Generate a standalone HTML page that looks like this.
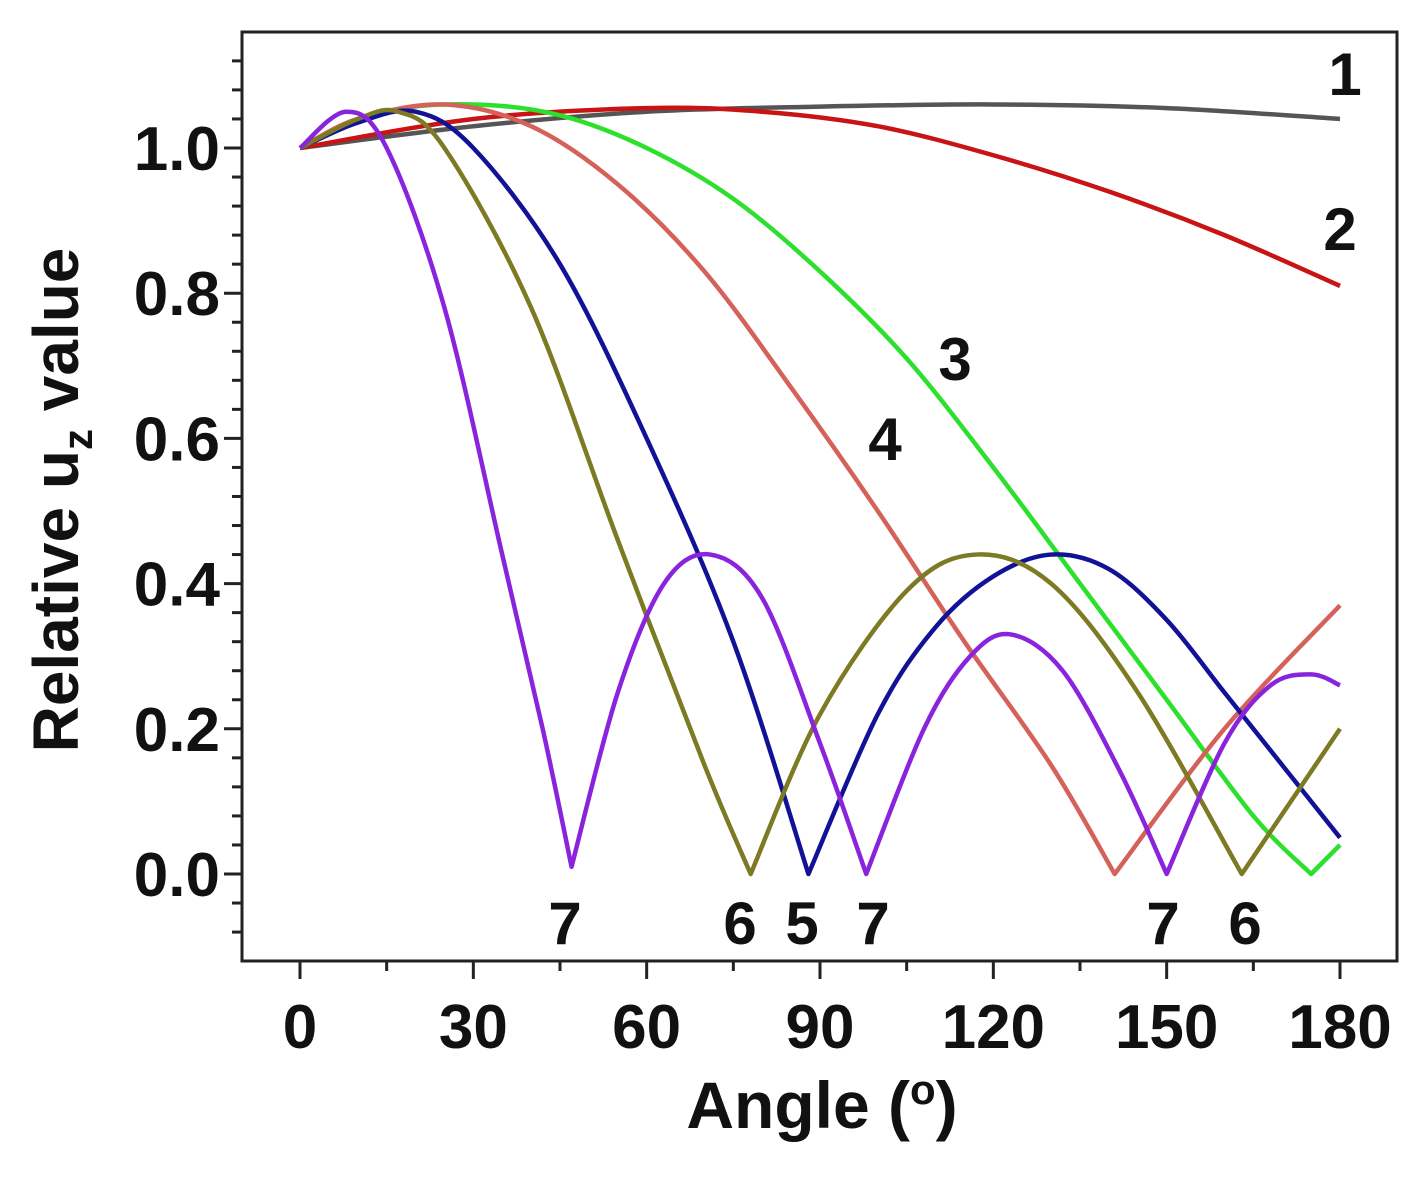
<!DOCTYPE html>
<html><head><meta charset="utf-8"><style>
html,body{margin:0;padding:0;background:#fff;}
svg text{font-family:"Liberation Sans",sans-serif;font-weight:bold;fill:#111;}
</style></head><body>
<svg id="chart" width="1427" height="1181" viewBox="0 0 1427 1181" xmlns="http://www.w3.org/2000/svg">
<g id="axes"></g>
<g id="series"></g>
<g id="labels"></g>
<text x="0" y="0" font-size="64" text-anchor="middle" transform="translate(78,500) rotate(-90)">Relative u<tspan font-size="42" dy="14">z</tspan><tspan dy="-14"> value</tspan></text>
<text x="822" y="1128" font-size="66" text-anchor="middle">Angle (<tspan font-size="42" dy="-24">o</tspan><tspan dy="24">)</tspan></text>
</svg>
<script>
const xTicks=[0,30,60,90,120,150,180];
const yTicks=[0.0,0.2,0.4,0.6,0.8,1.0];
const s1x=[0,30,60,90,120,150,180];
const s1y=[1.0,1.03,1.05,1.057,1.06,1.055,1.04];
const s2x=[0,30,60,80,100,120,140,160,180];
const s2y=[1.0,1.04,1.055,1.05,1.03,0.99,0.94,0.88,0.81];
const s3x=[0,15,30,45,60,75,90,105,120,135,150,165,175,180];
const s3y=[1.0,1.05,1.06,1.045,1.0,0.93,0.83,0.71,0.56,0.40,0.24,0.08,0.0,0.04];
const s4x=[0,10,25,40,55,70,85,100,115,130,141,160,180];
const s4y=[1.0,1.04,1.06,1.03,0.95,0.83,0.67,0.50,0.32,0.15,0.0,0.2,0.37];
const s5x=[0,10,20,30,45,60,75,88,100,110,120,130,140,150,160,170,180];
const s5y=[1.0,1.035,1.05,1.0,0.84,0.60,0.32,0.0,0.22,0.34,0.41,0.44,0.42,0.35,0.25,0.15,0.05];
const s6x=[0,10,17,25,40,55,70,78,90,105,117,130,145,163,180];
const s6y=[1.0,1.04,1.05,1.0,0.78,0.46,0.15,0.0,0.22,0.39,0.44,0.40,0.25,0.0,0.2];
const s7x=[0,8,15,25,35,42,47,55,63,71,80,90,98,108,116,123,132,142,150,160,168,175,180];
const s7y=[1.0,1.05,1.0,0.78,0.44,0.2,0.01,0.25,0.40,0.44,0.38,0.18,0.0,0.2,0.3,0.33,0.28,0.14,0.0,0.18,0.26,0.275,0.26];
const colors=["#555555","#c81414","#2de02d","#d4625a","#121296","#7d7a24","#8a24dc"];
const seriesX=[s1x,s2x,s3x,s4x,s5x,s6x,s7x];
const seriesY=[s1y,s2y,s3y,s4y,s5y,s6y,s7y];
const NS="http://www.w3.org/2000/svg";
const X=v=>300+v*(1040/180);
const Y=v=>874-v*726;
function mk(tag,attrs,parent){const e=document.createElementNS(NS,tag);for(const k in attrs)e.setAttribute(k,attrs[k]);parent.appendChild(e);return e;}
const axes=document.getElementById('axes');
let fr=mk('rect',{x:242,y:32,width:1155,height:929,fill:'none',stroke:'#222','stroke-width':3},axes);


for(let v=-15;v<=190;v+=15){if(v<-10)continue;const major=v%30===0;
 const t=mk('line',{x1:X(v),x2:X(v),y1:961,y2:961+(major?18:10),stroke:'#222','stroke-width':3},axes);
 
 }
for(let i=-3;i<=29;i++){const v=i*0.04;if(Y(v)<32||Y(v)>961)continue;const major=i%5===0;
 const t=mk('line',{x1:242,x2:242-(major?18:10),y1:Y(v),y2:Y(v),stroke:'#222','stroke-width':3},axes);
 
 }
xTicks.forEach(v=>{const t=mk('text',{x:X(v),y:1048,'font-size':62,'text-anchor':'middle'},axes);t.textContent=v;
 
 });
yTicks.forEach(v=>{const t=mk('text',{x:220,y:Y(v)+22,'font-size':62,'text-anchor':'end'},axes);t.textContent=v.toFixed(1);
 
 });
function pathFor(xs,ys){const P=xs.map((x,i)=>[X(x),Y(ys[i])]);let d='M'+P[0][0]+','+P[0][1];
 const corner=i=>i===0||i===P.length-1||ys[i]<=0.02;
 for(let i=0;i<P.length-1;i++){const p1=P[i],p2=P[i+1];
  const p0=corner(i)?p1:P[i-1];const p3=corner(i+1)?p2:P[i+2];
  const c1=[p1[0]+(p2[0]-p0[0])/6,p1[1]+(p2[1]-p0[1])/6];
  const c2=[p2[0]-(p3[0]-p1[0])/6,p2[1]-(p3[1]-p1[1])/6];
  d+=' C'+c1+' '+c2+' '+p2;}
 return d;}
const sg=document.getElementById('series');
seriesX.forEach((xs,k)=>{const p=mk('path',{d:pathFor(xs,seriesY[k]),fill:'none',stroke:colors[k],'stroke-width':4.5,'stroke-linejoin':'round'},sg);
 
 });
const labs=[["1",1345,95],["2",1340,250],["3",955,380],["4",885,460],["7",565,944],["6",740,944],["5",802,944],["7",873,944],["7",1163,944],["6",1245,944]];
const lg=document.getElementById('labels');
labs.forEach(l=>{const t=mk('text',{x:l[1],y:l[2],'font-size':60,'text-anchor':'middle'},lg);t.textContent=l[0];
 
 });
</script>
</body></html>
